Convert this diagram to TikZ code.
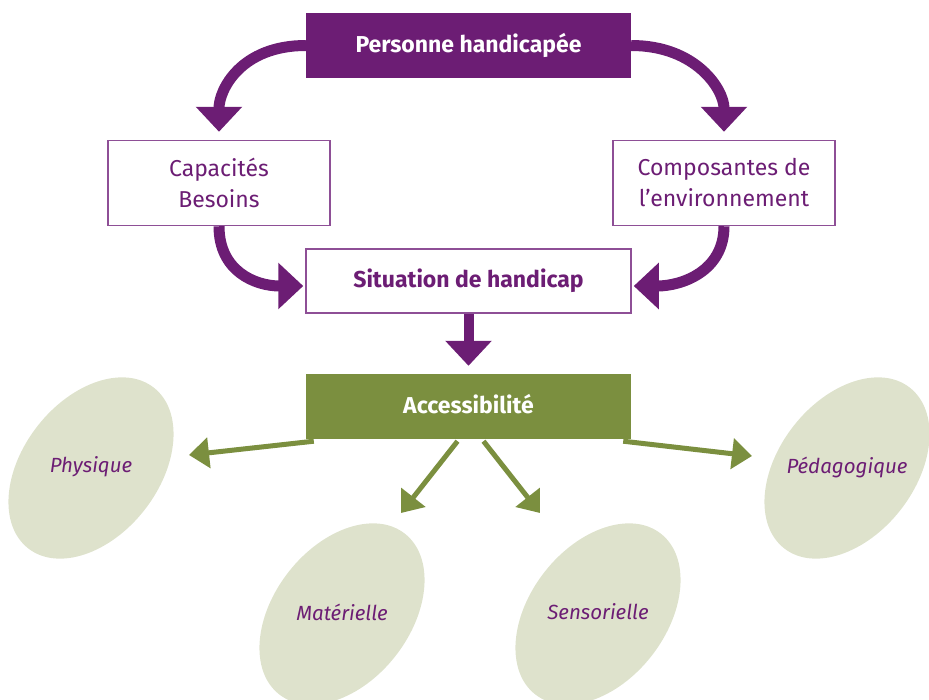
\documentclass[tikz,border=0pt]{standalone}
\usepackage{fontspec}
\setmainfont{Fira Sans}
\usetikzlibrary{arrows.meta,shapes.geometric,backgrounds}
\definecolor{purp}{HTML}{6C1D74}
\definecolor{purpline}{HTML}{8E4F96}
\definecolor{olive}{HTML}{7B8F3F}
\definecolor{sage}{HTML}{DEE2CC}
\begin{document}
\begin{tikzpicture}[x=1pt,y=-1pt,
  bigbox/.style={rectangle, minimum width=325pt, minimum height=65pt, inner sep=0pt,
    font=\fontsize{23}{27}\selectfont\bfseries, align=center},
  filledp/.style={bigbox, fill=purp, text=white},
  filledg/.style={bigbox, fill=olive, text=white},
  framed/.style={rectangle, draw=purpline, line width=1.5pt, fill=white, inner sep=0pt,
    text=purp, align=center},
  sidebox/.style={framed, minimum width=222pt, minimum height=85pt,
    font=\fontsize{23}{31}\selectfont},
  ell/.style={ellipse, fill=sage, minimum width=204pt, minimum height=136pt, inner sep=0pt, rotate=52},
  lab/.style={font=\fontsize{20.5}{24}\selectfont\itshape, text=purp},
  parrow/.style={draw=purp, line width=11pt, -{Triangle[length=25pt,width=45pt]}},
  garrow/.style={draw=olive, line width=5pt, -{Triangle[length=20pt,width=30pt]}}
]
\useasboundingbox (0,0) rectangle (929,699);

% ellipses
\node[ell] (phys) at (91,468) {};
\node[ell] (mat) at (342,614) {};
\node[ell] (sens) at (598,614) {};
\node[ell] (ped) at (847,468) {};
\node[lab] (physl) at ([yshift=1pt]phys.center) {Physique};
\node[lab] (matl) at ([yshift=2pt]mat.center) {Matérielle};
\node[lab] (sensl) at ([yshift=2pt]sens.center) {Sensorielle};
\node[lab] (pedl) at ([yshift=1pt]ped.center) {Pédagogique};

% boxes
\node[filledp] (P) at (468.5,45.5) {Personne handicapée\vphantom{y}};
\node[sidebox] (Cap) at (219,183) {Capacités\\Besoins};
\node[sidebox] (Comp) at (724,183) {Composantes de\\l’environnement};
\node[framed, minimum width=325pt, minimum height=64pt, font=\fontsize{23}{27}\selectfont\bfseries] (Sit) at (468.5,281) {Situation de handicap};
\node[filledg] (Acc) at (468.5,406.5) {Accessibilité\vphantom{y}};

% free ends
\coordinate (tphys) at (189,455);
\coordinate (tmat) at (401,513);
\coordinate (tsens) at (540,513);
\coordinate (tped) at (752,456);
\coordinate (sitL) at ([yshift=-5pt]Sit.west);
\coordinate (sitR) at ([yshift=-5pt]Sit.east);

% purple arrows
\draw[parrow, shorten >=8pt] (P.west) .. controls +(-65,0) and +(0,-50) .. (Cap.north);
\draw[parrow, shorten >=8pt] (P.east) .. controls +(65,0) and +(0,-50) .. (Comp.north);
\draw[parrow, shorten >=2pt] (Cap.south) .. controls +(0,45) and +(-50,0) .. (sitL);
\draw[parrow, shorten >=2pt] (Comp.south) .. controls +(0,45) and +(50,0) .. (sitR);
\draw[parrow, line width=10pt, shorten >=8pt] (Sit.south) -- (Acc.north);

% green arrows
\begin{scope}[on background layer]
\draw[garrow] ([xshift=8pt,yshift=-2pt]Acc.south west) -- (tphys);
\draw[garrow] ([xshift=-11pt,yshift=-2pt]Acc.south) -- (tmat);
\draw[garrow] ([xshift=15pt,yshift=-2pt]Acc.south) -- (tsens);
\draw[garrow] ([xshift=-8pt,yshift=-2pt]Acc.south east) -- (tped);
\end{scope}
\end{tikzpicture}
\end{document}
